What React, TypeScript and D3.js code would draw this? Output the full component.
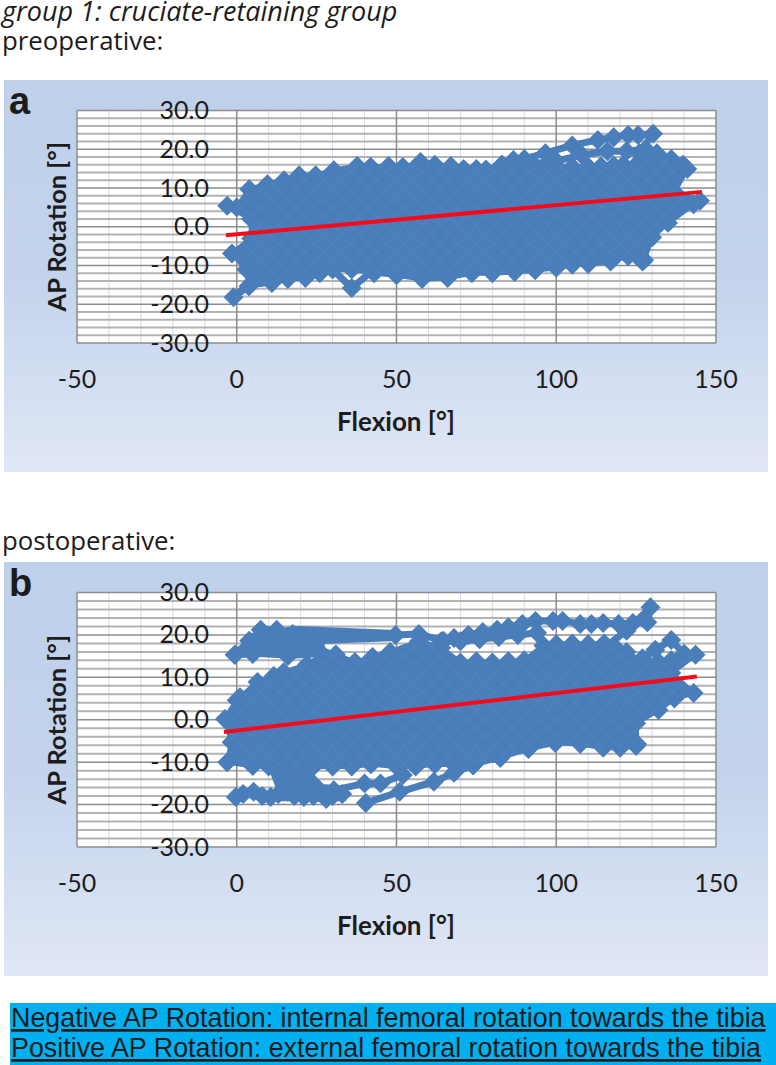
import * as d3 from "d3";

const WIDTH = 776;
const HEIGHT = 1065;

const xTicks = [-50, 0, 50, 100, 150];
const yTicks = [30, 20, 10, 0, -10, -20, -30];

// panel a: outline of the dense cloud of traces
const bodyFlexA = [-3, 0, 3.9, 9.6, 14.8, 19.5, 24.7, 30.4, 37.7, 41.9, 47.5, 52, 57.5, 62, 67, 71, 75, 78, 83, 86.6, 93, 100, 105, 110, 114, 118, 121, 125, 131.5, 136, 139.7, 141, 137, 145, 143, 135, 130, 127.5, 127, 122.5, 117, 110, 105, 100, 93.4, 87, 80, 73.6, 66, 58, 50, 43, 36, 30, 26, 21.5, 16, 11, 3.8, 3, -1.5, 4.5, 4.5];
const bodyRotA = [5.4, 5, 9.7, 11, 12, 13.3, 13.3, 14.6, 15.7, 15.5, 15.7, 15.4, 16.7, 16, 15.7, 14.9, 14.9, 14.8, 16, 17.2, 16, 15.5, 15.5, 15.5, 15.6, 15.8, 16, 16, 19, 17.5, 16, 14.9, 9, 6.7, 5.8, 1, -2.7, -8.6, -9, -7.6, -9, -9.6, -9.8, -10.6, -11.2, -11.7, -12, -12, -13.2, -13.5, -12.5, -12, -11, -11, -12, -13.2, -13.5, -14.5, -15.3, -11, -6.9, -3, 2];

const traceFlexA1 = [83, 90, 96.6, 105, 113, 118, 122.5, 125.6, 130.3, 126];
const traceRotA1 = [16, 17.5, 19, 21, 22.4, 23.1, 23.7, 23.7, 24, 19];
const traceFlexA2 = [90, 100, 108, 116, 122, 128];
const traceRotA2 = [16, 17, 18.5, 19.5, 19.5, 20];
const traceFlexA3 = [3.8, -1, 6];
const traceRotA3 = [-15.3, -18.2, -13];
const traceFlexA4 = [30, 36, 43];
const traceRotA4 = [-11, -15.8, -11];

// panel b
const bodyFlexB = [-3.7, 0, 1, 6.5, 11.6, 14.7, 22, 27, 31, 37, 42.5, 48, 57, 64, 70, 75, 80, 85, 90, 96, 100, 105, 110, 115, 118, 122, 127, 132, 136, 140, 143.6, 136, 143, 137, 132, 125, 125.3, 125, 120, 114.7, 107.5, 99.7, 91.3, 82.5, 74, 68, 62, 56, 50, 42, 36, 30, 24, 20, 15, 10, 5, -3, -1.6];
const bodyRotB = [0.2, 4.6, 5.3, 8.9, 10.3, 11.2, 13, 15.3, 15.3, 13.6, 14.8, 16, 18.5, 17, 13.5, 13.8, 13.5, 13.8, 14, 17.5, 17.8, 18, 17.8, 18, 17.4, 16, 13.5, 13.6, 14, 15.5, 15.3, 11, 6.3, 5, 2.3, -0.8, -5.7, -6.2, -6.6, -6.6, -5.7, -5.5, -6.9, -9, -10.7, -10.6, -10.5, -11, -11, -10.5, -11, -11, -11, -11.5, -11, -11, -10.9, -10, -5.3];

// solid patches where traces run together, no marker of their own
const bandFlexB = [17.5, 49.8, 49.8, 27.2, 27.2, 16.9, -0.3, 5];
const bandRotB = [21.9, 20.9, 18.8, 18.1, 15, 14.6, 15.3, 20];
const linkFlexB = [10, 20, 27, 34, 34, 14];
const linkRotB = [-11, -10, -15.4, -15.9, -19, -19];

const traceFlexB1 = [-0.6, 3.9, 7.5, 12.5, 17.5, 49.7, 57, 64.7, 68, 72.5, 77, 81.5, 85, 89.4, 93.5, 99, 102, 107.5, 111, 114.7, 119.5, 124, 128.5, 129.5, 122, 115];
const traceRotB1 = [15.3, 18.6, 21.2, 21.2, 20.2, 20, 20.2, 18.6, 19.3, 20, 20.7, 21.2, 21.8, 22.6, 23.3, 23.3, 23.3, 22.6, 22.6, 22.8, 22.6, 22.8, 23, 26.5, 21, 17];
const traceFlexB2 = [-0.6, 5, 10, 16, 25, 31];
const traceRotB2 = [15.3, 15.5, 17, 15, 16.5, 15.3];
const traceFlexB3 = [127, 131, 136, 140];
const traceRotB3 = [14.5, 16.5, 18.8, 15.5];
const traceFlexB4 = [-0.3, 5.3, 10.6, 16, 21, 28, 33];
const traceRotB4 = [-18.2, -17, -18.2, -17, -18.2, -18.7, -17.5];
const traceFlexB5 = [40.4, 51, 61.7, 68, 74];
const traceRotB5 = [-19.6, -17, -14.6, -12.5, -10.7];
const traceFlexB6 = [30.4, 40, 45, 52];
const traceRotB6 = [-16.6, -15, -15, -13];
const traceFlexB7 = [64, 70, 76, 82, 88, 94];
const traceRotB7 = [18.5, 18.5, 19, 19.5, 20, 20.5];
const traceFlexB8 = [2, 8, 13, 18, 24, 30];
const traceRotB8 = [-17.5, -18, -17.5, -18, -18, -18];

const fitFlexA = [-3.4, 145.6];
const fitRotA = [-2.2, 9];
const fitFlexB = [-4, 144];
const fitRotB = [-2.9, 10.2];

const BLUE = "#4a7ebb";
const RED = "#f50a1c";
const INK = "#1c1c1c";
const LABEL_FONT = "Lato, sans-serif";

const diamond = d3.symbol(d3.symbolSquare, 200)();

type Trace = [number[], number[]];

function Panel({ letter, bgTop, bgBottom, plotTop, plotBottom, body, patches, traces, fit, gradId, titleY }: {
  letter: string; bgTop: number; bgBottom: number; plotTop: number; plotBottom: number;
  body: Trace; patches: Trace[]; traces: Trace[]; fit: Trace; gradId: string; titleY: number;
}) {
  const x = d3.scaleLinear().domain([-50, 150]).range([77, 716]);
  const y = d3.scaleLinear().domain([-30, 30]).range([plotBottom, plotTop]);
  const toPts = ([fs, rs]: Trace) => fs.map((f, i) => [x(f), y(rs[i])] as [number, number]);
  const path = d3.line();

  const minorX = d3.range(-50, 151, 10).filter((d) => d % 50 !== 0);
  const minorY = d3.range(-30, 31, 2).filter((d) => d % 10 !== 0);

  return (
    <g>
      <rect x={4} y={bgTop} width={764} height={bgBottom - bgTop} fill={`url(#${gradId})`} />
      <rect x={77} y={plotTop} width={639} height={plotBottom - plotTop} fill="#fff" />
      {minorX.map((d) => (
        <line key={d} x1={x(d)} x2={x(d)} y1={plotTop} y2={plotBottom} stroke="#d3dbee" strokeWidth={1} />
      ))}
      {minorY.map((d) => (
        <line key={d} x1={77} x2={716} y1={y(d)} y2={y(d)} stroke="#b2b2b2" strokeWidth={2} />
      ))}
      {yTicks.map((d) => (
        <line key={d} x1={77} x2={716} y1={y(d)} y2={y(d)} stroke="#8c8c8c" strokeWidth={1.5} />
      ))}
      {xTicks.map((d) => (
        <line key={d} x1={x(d)} x2={x(d)} y1={plotTop} y2={plotBottom} stroke="#8c8c8c" strokeWidth={1.5} />
      ))}

      {yTicks.map((d) => (
        <text key={d} x={209} y={y(d) + 8.5} textAnchor="end" fontFamily={LABEL_FONT} fontSize={25} fill={INK}>
          {d.toFixed(1)}
        </text>
      ))}
      {xTicks.map((d) => (
        <text key={d} x={x(d)} y={plotBottom + 45} textAnchor="middle" fontFamily={LABEL_FONT} fontSize={25} fill={INK}>
          {d}
        </text>
      ))}

      {/* traces first so the cloud's hatch stays on top of them */}
      {traces.map((t, i) => (
        <path key={i} d={path(toPts(t)) ?? ""} fill="none" stroke={BLUE} strokeWidth={7} strokeLinejoin="round" />
      ))}
      {traces.map((t, i) =>
        toPts(t).map(([px, py], j) => (
          <path key={`${i}-${j}`} d={diamond ?? ""} transform={`translate(${px},${py}) rotate(45)`} fill={BLUE} />
        ))
      )}
      {toPts(body).map(([px, py], j) => (
        <path key={j} d={diamond ?? ""} transform={`translate(${px},${py}) rotate(45)`} fill={BLUE} />
      ))}
      {patches.map((t, i) => (
        <path key={i} d={path(toPts(t)) + "Z"} fill={BLUE} stroke={BLUE} strokeWidth={2} strokeLinejoin="round" />
      ))}
      <path d={path(toPts(body)) + "Z"} fill={BLUE} stroke={BLUE} strokeWidth={5} strokeLinejoin="round" />
      <path d={path(toPts(body)) + "Z"} fill="url(#hatch)" />
      <path d={path(toPts(fit)) ?? ""} fill="none" stroke={RED} strokeWidth={4} />

      <text x={9} y={bgTop + 34} fontFamily="Liberation Sans, Arial, sans-serif" fontWeight={700} fontSize={38} fill={INK}>
        {letter}
      </text>
      <text x={396} y={titleY} textAnchor="middle" fontFamily={LABEL_FONT} fontWeight={700} fontSize={26} fill={INK}>
        Flexion [°]
      </text>
      <text
        transform={`translate(66,${(plotTop + plotBottom) / 2}) rotate(-90)`}
        textAnchor="middle"
        fontFamily={LABEL_FONT}
        fontWeight={700}
        fontSize={25.5}
        fill={INK}
      >
        AP Rotation [°]
      </text>
    </g>
  );
}

export default function App() {
  return (
    <svg
      width={WIDTH}
      height={HEIGHT}
      style={{ position: "fixed", left: 0, top: 0, background: "#fff" }}
    >
      <defs>
        {["bgA", "bgB"].map((id) => (
          <linearGradient key={id} id={id} x1="0" y1="0" x2="0" y2="1">
            <stop offset="0" stopColor="#bfd0eb" />
            <stop offset="0.5" stopColor="#c3d3ec" />
            <stop offset="1" stopColor="#e0e7f5" />
          </linearGradient>
        ))}
        <pattern id="hatch" width={12.7} height={12.7} patternUnits="userSpaceOnUse" patternTransform="rotate(45)">
          <rect x={0} y={0} width={12.7} height={1} fill="#5386c2" opacity={0.55} />
          <rect x={0} y={0} width={1} height={12.7} fill="#5386c2" opacity={0.55} />
        </pattern>
      </defs>

      <text x={2} y={21} fontFamily="Open Sans, sans-serif" fontStyle="italic" fontSize={27} fill={INK}>
        group 1: cruciate-retaining group
      </text>
      <text x={2} y={50} fontFamily="Open Sans, sans-serif" fontSize={25.8} fill={INK}>
        preoperative:
      </text>

      <Panel
        letter="a"
        gradId="bgA"
        bgTop={80}
        bgBottom={472}
        plotTop={110.5}
        plotBottom={343}
        titleY={431}
        body={[bodyFlexA, bodyRotA]}
        patches={[]}
        traces={[
          [traceFlexA1, traceRotA1],
          [traceFlexA2, traceRotA2],
          [traceFlexA3, traceRotA3],
          [traceFlexA4, traceRotA4],
        ]}
        fit={[fitFlexA, fitRotA]}
      />

      <text x={2} y={550} fontFamily="Open Sans, sans-serif" fontSize={25.8} fill={INK}>
        postoperative:
      </text>

      <Panel
        letter="b"
        gradId="bgB"
        bgTop={562}
        bgBottom={976}
        plotTop={592.5}
        plotBottom={847}
        titleY={935}
        body={[bodyFlexB, bodyRotB]}
        patches={[
          [bandFlexB, bandRotB],
          [linkFlexB, linkRotB],
        ]}
        traces={[
          [traceFlexB1, traceRotB1],
          [traceFlexB2, traceRotB2],
          [traceFlexB3, traceRotB3],
          [traceFlexB4, traceRotB4],
          [traceFlexB5, traceRotB5],
          [traceFlexB6, traceRotB6],
          [traceFlexB7, traceRotB7],
          [traceFlexB8, traceRotB8],
        ]}
        fit={[fitFlexB, fitRotB]}
      />

      <rect x={10} y={1003} width={766} height={62} fill="#00b0f0" />
      <text x={11} y={1027} fontFamily="Liberation Sans, Arial, sans-serif" fontSize={26.85} textDecoration="underline" fill={INK}>
        Negative AP Rotation: internal femoral rotation towards the tibia
      </text>
      <text x={11} y={1057} fontFamily="Liberation Sans, Arial, sans-serif" fontSize={26.85} textDecoration="underline" fill={INK}>
        Positive AP Rotation: external femoral rotation towards the tibia
      </text>
    </svg>
  );
}
